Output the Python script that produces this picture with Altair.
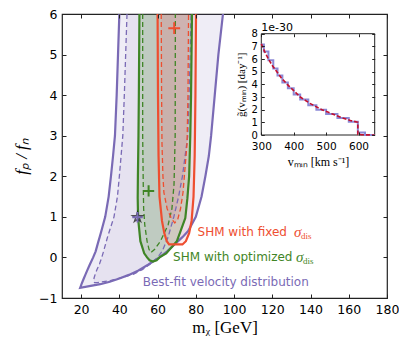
import altair as alt
import pandas as pd

# ---------------- main panel: confidence regions, read at f_p/f_n levels ----------------
# Best-fit velocity distribution, outer (solid) contour
bo_y = [6.0, 5.0, 4.0, 3.0, 2.5, 2.0, 1.5, 1.0, 0.65, 0.5, 0.37, 0.15, 0.0, -0.18, -0.32, -0.43, -0.52, -0.60, -0.66, -0.70, -0.75]
bo_xl = [40.0, 39.3, 38.6, 37.7, 36.7, 35.6, 34.4, 32.6, 30.6, 29.7, 28.9, 27.6, 26.3, 24.5, 23.2, 22.2, 21.4, 20.7, 20.2, 19.9, 19.5]
bo_xr = [94.2, 91.8, 89.9, 88.0, 86.8, 85.0, 83.0, 80.0, 76.0, 73.0, 70.0, 65.0, 61.0, 55.0, 50.0, 45.0, 40.0, 35.0, 30.0, 25.0, 19.5]
# Best-fit velocity distribution, inner (dashed) contour
bi_y = [6.0, 5.0, 4.0, 3.0, 2.0, 1.5, 1.0, 0.5, 0.16, 0.0, -0.16, -0.3, -0.41, -0.5, -0.57, -0.62]
bi_xl = [44.0, 43.3, 42.6, 41.8, 40.0, 39.0, 37.2, 33.8, 31.8, 30.8, 29.6, 28.3, 27.4, 26.8, 26.6, 27.0]
bi_xr = [77.5, 77.0, 76.5, 75.8, 73.0, 71.0, 68.5, 65.5, 62.5, 60.0, 56.2, 52.0, 47.5, 41.0, 35.3, 28.5]
# SHM with optimized sigma, outer (solid)
go_y = [6.0, 4.0, 3.0, 2.0, 1.46, 0.97, 0.4, 0.1, 0.0, -0.07, -0.1]
go_xl = [50.5, 50.2, 50.0, 49.7, 49.6, 49.8, 51.0, 53.0, 54.5, 55.8, 57.5]
go_xr = [78.0, 77.5, 77.1, 76.5, 75.6, 74.5, 70.1, 64.5, 61.0, 59.5, 57.5]
# SHM with optimized sigma, inner (dashed)
gi_y = [6.0, 3.0, 1.8, 1.2, 0.8, 0.4, 0.2, 0.12]
gi_xl = [52.2, 52.2, 52.5, 52.7, 53.3, 54.5, 55.5, 56.5]
gi_xr = [69.3, 69.2, 68.6, 67.5, 65.5, 61.5, 58.5, 56.5]
# SHM with fixed sigma, outer (solid)
ro_y = [6.0, 4.0, 2.5, 1.5, 0.9, 0.6, 0.4, 0.32]
ro_xl = [60.0, 60.2, 60.5, 61.0, 62.3, 63.5, 64.8, 66.0]
ro_xr = [80.1, 79.8, 79.4, 78.8, 77.8, 76.5, 74.8, 73.0]
# SHM with fixed sigma, inner (dashed)
ri_y = [6.0, 4.0, 2.8, 2.0, 1.6, 1.2, 0.95, 0.85]
ri_xl = [61.9, 62.1, 62.3, 62.8, 63.3, 65.0, 67.3, 69.0]
ri_xr = [76.2, 75.9, 75.4, 74.0, 73.3, 72.0, 70.6, 69.0]

# best-fit points: fixed, optimized, best-fit velocity distribution
bf_x = [68.7, 55.3, 49.5]
bf_y = [5.65, 1.64, 0.99]
star_x = [49.5]
star_y = [0.99]

x_ticks = [20, 40, 60, 80, 100, 120, 140, 160, 180]
y_ticks = [-1, 0, 1, 2, 3, 4, 5, 6]

lab_text = ["SHM with fixed ", "SHM with optimized ", "Best-fit velocity distribution"]
lab_x = [80.9, 68.1, 52.2]
lab_y = [0.62, 0.0, -0.61]
sig_x = [131.4, 132.4]
sig_y = [0.62, 0.0]

# ---------------- inset: g~(v_min) ----------------
v_curve = [300, 310, 322, 335, 348, 362, 380, 400, 420, 450, 487, 520, 550, 575, 598, 598, 610, 650]
g_curve = [7.2, 6.6, 6.0, 5.45, 5.0, 4.5, 4.0, 3.5, 3.0, 2.5, 2.0, 1.65, 1.35, 1.15, 1.0, 0.05, 0.02, 0.0]
v_step = [300, 308, 322, 337, 350, 365, 382, 400, 420, 445, 470, 500, 535, 570, 598, 620, 650]
g_step = [7.15, 6.6, 5.9, 5.25, 4.7, 4.15, 3.7, 3.2, 2.8, 2.35, 2.0, 1.65, 1.35, 1.05, 0.2, 0.0, 0.0]
v_ticks = [300, 400, 500, 600]
g_ticks = [0, 1, 2, 3, 4, 5, 6, 7, 8]

# ---------------- styling ----------------
W, H = 325, 284
PURPLE = "#7a6ab5"
GREEN = "#3f8526"
RED = "#ee4e30"
RED_FILL = "#f84a5a"
SANS = "DejaVu Sans"
SERIF = "Liberation Serif"
PLUS = "M-1,0L1,0M0,-1L0,1"
STAR = ("M0,-1L0.2245,-0.309L0.951,-0.309L0.3633,0.118L0.5878,0.809L0,0.382"
        "L-0.5878,0.809L-0.3633,0.118L-0.951,-0.309L-0.2245,-0.309Z")


def X():
    return alt.Scale(domain=[10, 180], nice=False, zero=False)


def Y():
    return alt.Scale(domain=[-1, 6], nice=False, zero=False)


def band(y, xl, xr):
    return pd.DataFrame({"y": y, "xl": xl, "xr": xr})


def outline(y, xl, xr):
    xs = list(xl) + list(reversed(xr))
    ys = list(y) + list(reversed(y))
    return pd.DataFrame({"x": xs, "y": ys, "k": list(range(len(xs)))})


def fill(y, xl, xr, color, op):
    return alt.Chart(band(y, xl, xr)).mark_area(
        orient="horizontal", color=color, fillOpacity=op, strokeWidth=0
    ).encode(
        y=alt.Y("y:Q", scale=Y(), axis=None),
        x=alt.X("xl:Q", scale=X(), axis=None),
        x2="xr:Q",
    )


def edge(y, xl, xr, color, width, dash=None):
    kw = dict(color=color, strokeWidth=width)
    if dash:
        kw["strokeDash"] = dash
    return alt.Chart(outline(y, xl, xr)).mark_line(**kw).encode(
        x=alt.X("x:Q", scale=X(), axis=None),
        y=alt.Y("y:Q", scale=Y(), axis=None),
        order="k:Q",
    )


ax_df = pd.DataFrame({"x": [10.0], "y": [-1.0]})


def x_axis(scale, **kw):
    return alt.Chart(ax_df).mark_point(opacity=0).encode(
        x=alt.X("x:Q", scale=scale, axis=alt.Axis(**kw)),
    )


def y_axis(scale, **kw):
    return alt.Chart(ax_df).mark_point(opacity=0).encode(
        y=alt.Y("y:Q", scale=scale, axis=alt.Axis(**kw)),
    )


tick_kw = dict(labels=False, ticks=True, tickSize=4, tickColor="#222", tickWidth=1,
               domain=False, grid=False, title=None, zindex=1)

layers = [
    fill(bo_y, bo_xl, bo_xr, PURPLE, 0.12),
    fill(bi_y, bi_xl, bi_xr, PURPLE, 0.08),
    fill(go_y, go_xl, go_xr, GREEN, 0.2),
    fill(gi_y, gi_xl, gi_xr, GREEN, 0.04),
    fill(ro_y, ro_xl, ro_xr, RED_FILL, 0.1),
    fill(ri_y, ri_xl, ri_xr, RED_FILL, 0.11),
    edge(bo_y, bo_xl, bo_xr, PURPLE, 2.2),
    edge(bi_y, bi_xl, bi_xr, PURPLE, 1.3, [5, 3]),
    edge(go_y, go_xl, go_xr, GREEN, 2.2),
    edge(gi_y, gi_xl, gi_xr, GREEN, 1.3, [5, 3]),
    edge(ro_y, ro_xl, ro_xr, RED, 2.2),
    edge(ri_y, ri_xl, ri_xr, RED, 1.3, [5, 3]),
]

keys = ["fixed", "opt", "best"]
pts = pd.DataFrame({"x": bf_x, "y": bf_y, "c": keys})
layers.append(
    alt.Chart(pd.DataFrame({"x": star_x, "y": star_y})).mark_point(
        shape=STAR, size=110, filled=False, color="#111", strokeWidth=1.4
    ).encode(x=alt.X("x:Q", scale=X(), axis=None), y=alt.Y("y:Q", scale=Y(), axis=None))
)
cscale = alt.Scale(domain=keys, range=[RED, GREEN, PURPLE])
layers.append(
    alt.Chart(pts).mark_point(shape=PLUS, filled=False, strokeWidth=2, opacity=1).encode(
        x=alt.X("x:Q", scale=X(), axis=None),
        y=alt.Y("y:Q", scale=Y(), axis=None),
        color=alt.Color("c:N", scale=cscale, legend=None),
        size=alt.Size("c:N", scale=alt.Scale(domain=keys, range=[140, 110, 60]), legend=None),
    )
)

labs = pd.DataFrame({"t": lab_text, "x": lab_x, "y": lab_y, "c": keys})
layers.append(
    alt.Chart(labs).mark_text(align="left", baseline="middle", font=SANS, fontSize=12).encode(
        x=alt.X("x:Q", scale=X(), axis=None), y=alt.Y("y:Q", scale=Y(), axis=None),
        text="t:N", color=alt.Color("c:N", scale=cscale, legend=None),
    )
)
sig = pd.DataFrame({"x": sig_x, "y": sig_y, "c": ["fixed", "opt"], "s": ["σ", "σ"], "d": ["dis", "dis"]})
layers.append(
    alt.Chart(sig).mark_text(align="left", baseline="middle", font=SERIF, fontStyle="italic", fontSize=15).encode(
        x=alt.X("x:Q", scale=X(), axis=None), y=alt.Y("y:Q", scale=Y(), axis=None),
        text="s:N", color=alt.Color("c:N", scale=cscale, legend=None),
    )
)
layers.append(
    alt.Chart(sig).mark_text(align="left", baseline="middle", font=SERIF, fontSize=9, dx=7, dy=4).encode(
        x=alt.X("x:Q", scale=X(), axis=None), y=alt.Y("y:Q", scale=Y(), axis=None),
        text="d:N", color=alt.Color("c:N", scale=cscale, legend=None),
    )
)

# main axes: labelled axes without ticks + inward ticks on all four sides
layers += [
    x_axis(X(), orient="bottom", values=x_ticks, ticks=False, tickSize=0, domain=False, grid=False,
           labelFont=SANS, labelFontSize=12.5, labelColor="black", labelPadding=5, labelFlush=False,
           title="mᵪ [GeV]", titleFont=SERIF, titleFontSize=17, titleFontWeight="normal",
           titleColor="black", titlePadding=4),
    x_axis(X(), orient="top", offset=-H, values=x_ticks, **tick_kw),
    x_axis(X(), orient="bottom", offset=-H, values=x_ticks, **tick_kw),
    y_axis(Y(), orient="left", values=y_ticks, ticks=False, tickSize=0, domain=False, grid=False,
           labelFont=SANS, labelFontSize=12.5, labelColor="black", labelPadding=5, labelFlush=False,
           title="fₚ / fₙ", titleFont=SERIF, titleFontStyle="italic", titleFontSize=17,
           titleFontWeight="normal", titleColor="black", titlePadding=8),
    y_axis(Y(), orient="right", offset=-W, values=y_ticks, **tick_kw),
    y_axis(Y(), orient="left", offset=-W, values=y_ticks, **tick_kw),
]

# ---------------- inset ----------------
IL, IR, IT, IB = 199.3, 312.7, 19.7, 121.0


def IX():
    return alt.Scale(domain=[300, 650], nice=False, zero=False, range=[IL, IR])


def IY():
    return alt.Scale(domain=[0, 8], nice=False, zero=False, range=[IB, IT])


frame = alt.Chart(pd.DataFrame({"a": [300], "b": [650], "c": [0], "d": [8]})).mark_rect(
    fill="white", stroke="#222", strokeWidth=1
).encode(
    x=alt.X("a:Q", scale=IX(), axis=None), x2="b:Q",
    y=alt.Y("c:Q", scale=IY(), axis=None), y2="d:Q",
)
step = alt.Chart(pd.DataFrame({"v": v_step, "g": g_step})).mark_line(
    interpolate="step-after", color="#8c89d6", strokeWidth=2
).encode(x=alt.X("v:Q", scale=IX(), axis=None), y=alt.Y("g:Q", scale=IY(), axis=None))
curve = alt.Chart(pd.DataFrame({"v": v_curve, "g": g_curve, "k": list(range(len(v_curve)))})).mark_line(
    color="#c3102e", strokeWidth=1.6, strokeDash=[4, 2]
).encode(x=alt.X("v:Q", scale=IX(), axis=None), y=alt.Y("g:Q", scale=IY(), axis=None), order="k:Q")
expo = alt.Chart(pd.DataFrame({"v": [300], "g": [8], "t": ["1e-30"]})).mark_text(
    align="left", baseline="bottom", font=SANS, fontSize=11, dy=-1, color="black"
).encode(x=alt.X("v:Q", scale=IX(), axis=None), y=alt.Y("g:Q", scale=IY(), axis=None), text="t:N")

itick = dict(tick_kw, tickSize=3)
layers += [
    frame, step, curve, expo,
    x_axis(IX(), orient="bottom", offset=IB - H, values=v_ticks, ticks=False, tickSize=0, domain=False,
           grid=False, labelFont=SANS, labelFontSize=10.5, labelColor="black", labelPadding=6.5,
           labelFlush=False, labelOverlap=False,
           title="vₘᵢₙ [km s⁻¹]", titleFont=SERIF, titleFontSize=12, titleFontWeight="normal",
           titleColor="black", titlePadding=4, zindex=1),
    x_axis(IX(), orient="top", offset=-IB, values=v_ticks, **itick),
    x_axis(IX(), orient="bottom", offset=IT - H, values=v_ticks, **itick),
    y_axis(IY(), orient="left", offset=-IL, values=g_ticks, ticks=False, tickSize=0, domain=False,
           grid=False, labelFont=SANS, labelFontSize=10, labelColor="black", labelPadding=4,
           labelFlush=False, labelOverlap=False,
           title="g̃(vₘᵢₙ) [day⁻¹]", titleFont=SERIF, titleFontSize=11, titleFontWeight="normal",
           titleColor="black", titlePadding=4, zindex=1),
    y_axis(IY(), orient="right", offset=IL - W, values=g_ticks, **itick),
    y_axis(IY(), orient="left", offset=-IR, values=g_ticks, **itick),
]

chart = alt.layer(*layers).resolve_scale(x="independent", y="independent").properties(
    width=W, height=H,
    padding={"left": 54, "top": 6, "right": 12, "bottom": 41},
    autosize=alt.AutoSizeParams(type="none"),
).configure_view(stroke="#222", strokeWidth=1.2)

chart.save("out.html", embed_options={"renderer": "svg", "actions": False})
